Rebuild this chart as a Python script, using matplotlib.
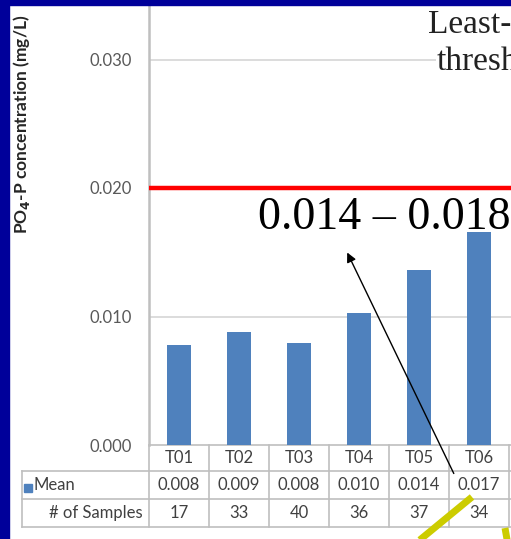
import matplotlib
matplotlib.use("Agg")
import matplotlib.pyplot as plt
from matplotlib.patches import Rectangle

# ---- data ----
categories = ["T01", "T02", "T03", "T04", "T05", "T06"]
means = [0.0078, 0.0088, 0.0079, 0.0103, 0.0136, 0.0166]
mean_labels = ["0.008", "0.009", "0.008", "0.010", "0.014", "0.017"]
samples = [17, 33, 40, 36, 37, 34]
threshold = 0.020
yticks = [0.000, 0.010, 0.020, 0.030]
ytick_labels = ["0.000", "0.010", "0.020", "0.030"]
range_text = "0.014 \u2013 0.018"

W, H = 511, 539
fig = plt.figure(figsize=(W / 100, H / 100), dpi=100)
fig.patch.set_facecolor("white")

AX_L, AX_R, AX_T, AX_B = 149, 511, 5, 445
COLW = 60.0
ax = fig.add_axes([AX_L / W, 1 - AX_B / H, (AX_R - AX_L) / W, (AX_B - AX_T) / H])
ppu = 12850.0  # pixels per data unit (y)
ax.set_xlim(-0.5, -0.5 + (AX_R - AX_L) / COLW)
ax.set_ylim(0, (AX_B - AX_T) / ppu)


def P(xp, yp):
    """pixel -> data coordinates"""
    return (xp - AX_L) / COLW - 0.5, (AX_B - yp) / ppu


grid_c = "#D9D9D9"
line_c = "#BFBFBF"
text_c = "#404040"
tick_c = "#595959"
bar_c = "#4F81BD"
sans = ["Lato", "DejaVu Sans"]

# bars
xs = list(range(len(categories)))
ax.bar(xs, means, width=0.4, color=bar_c, zorder=3)

# grid
ax.set_yticks(yticks)
ax.set_yticklabels(ytick_labels, fontsize=12, color=tick_c, family=sans)
ax.tick_params(axis="y", length=0, pad=12)
ax.set_xticks([])
for yv in yticks[1:]:
    ax.axhline(yv, color=grid_c, lw=1.3, zorder=1)
ax.axhline(threshold, color="#FF0000", lw=3.2, zorder=4)

for s in ["top", "right", "bottom"]:
    ax.spines[s].set_visible(False)
ax.spines["left"].set_color(line_c)
ax.spines["left"].set_linewidth(1.8)

# ---- data table below ----
rows_px = [445, 471, 499, 527]
x_tab_left = 22


def hline(y_px, x0_px, x1_px):
    (x0, y), (x1, _) = P(x0_px, y_px), P(x1_px, y_px)
    ax.plot([x0, x1], [y, y], color=line_c, lw=1.2, clip_on=False, zorder=2)


def vline(x_px, y0_px, y1_px):
    (x, y0), (_, y1) = P(x_px, y0_px), P(x_px, y1_px)
    ax.plot([x, x], [y0, y1], color=line_c, lw=1.2, clip_on=False, zorder=2)


hline(rows_px[0], AX_L, AX_R + 5)
for r in rows_px[1:]:
    hline(r, x_tab_left, AX_R + 5)
vline(x_tab_left, rows_px[1], rows_px[3])
vline(AX_L, rows_px[0], rows_px[3])
for i in range(len(categories)):
    xb = AX_L + COLW * (i + 1)
    vline(xb, rows_px[0], rows_px[3])

row_c = [(rows_px[k] + rows_px[k + 1]) / 2 for k in range(3)]
fs_tab = 12
for i, (c, m, n) in enumerate(zip(categories, mean_labels, samples)):
    _, y0 = P(0, row_c[0])
    _, y1 = P(0, row_c[1])
    _, y2 = P(0, row_c[2])
    ax.text(i, y0, c, ha="center", va="center", fontsize=fs_tab, color=text_c,
            family=sans, clip_on=False)
    ax.text(i, y1, m, ha="center", va="center", fontsize=fs_tab, color=text_c,
            family=sans, clip_on=False)
    ax.text(i, y2, str(n), ha="center", va="center", fontsize=fs_tab,
            color=text_c, family=sans, clip_on=False)

# row headers
sx0, sy0 = P(24, 492)
sx1, sy1 = P(32, 484)
ax.add_patch(Rectangle((sx0, sy0), sx1 - sx0, sy1 - sy0, color=bar_c,
                       clip_on=False, zorder=3))
mx, my = P(34, row_c[1])
ax.text(mx, my, "Mean", ha="left", va="center", fontsize=fs_tab, color=text_c,
        family=sans, clip_on=False)
nx, ny = P(143, row_c[2])
ax.text(nx, ny, "# of Samples", ha="right", va="center", fontsize=fs_tab,
        color=text_c, family=sans, clip_on=False)

# y label
fig.text(22 / W, 1 - 124 / H, r"PO$_{\mathbf{4}}$-P concentration (mg/L)",
         rotation=90, ha="center", va="center", fontsize=12.5,
         fontweight="bold", color="#262626", family=sans)

# annotation text
serif = ["Liberation Serif", "DejaVu Serif"]
tx, ty = P(258, 229)
ax.text(tx, ty, range_text, ha="left", va="baseline", fontsize=33,
        family=serif, color="black", clip_on=False, zorder=6)
lx, ly = P(428, 33)
ax.text(lx, ly, "Least-", ha="left", va="baseline", fontsize=24,
        family=serif, color="#222222", clip_on=False, zorder=6,
        bbox=dict(facecolor="white", edgecolor="none", pad=1))
hx, hy = P(437, 70)
ax.text(hx, hy, "thresh", ha="left", va="baseline", fontsize=24,
        family=serif, color="#222222", clip_on=False, zorder=6,
        bbox=dict(facecolor="white", edgecolor="none", pad=1))

# arrow
ax.annotate("", xy=P(346, 250), xytext=P(455, 476),
            arrowprops=dict(arrowstyle="-|>", color="black", lw=1.0,
                            mutation_scale=14),
            annotation_clip=False, zorder=7)

# yellow marker strokes
ya, yb = P(410, 548), P(472, 497)
ax.plot([ya[0], yb[0]], [ya[1], yb[1]], color="#CCCC00", lw=5,
        solid_capstyle="butt", clip_on=False, zorder=8)
yc, yd = P(505, 528), P(508, 545)
ax.plot([yc[0], yd[0]], [yc[1], yd[1]], color="#CCCC00", lw=5,
        solid_capstyle="butt", clip_on=False, zorder=8)

# navy slide border
navy = "#00009A"
fig.add_artist(Rectangle((0, 0), 9 / W, 1, transform=fig.transFigure,
                         color=navy, zorder=20))
fig.add_artist(Rectangle((0, 1 - 5 / H), 1, 5 / H, transform=fig.transFigure,
                         color=navy, zorder=20))

fig.savefig("out.png", dpi=100)
